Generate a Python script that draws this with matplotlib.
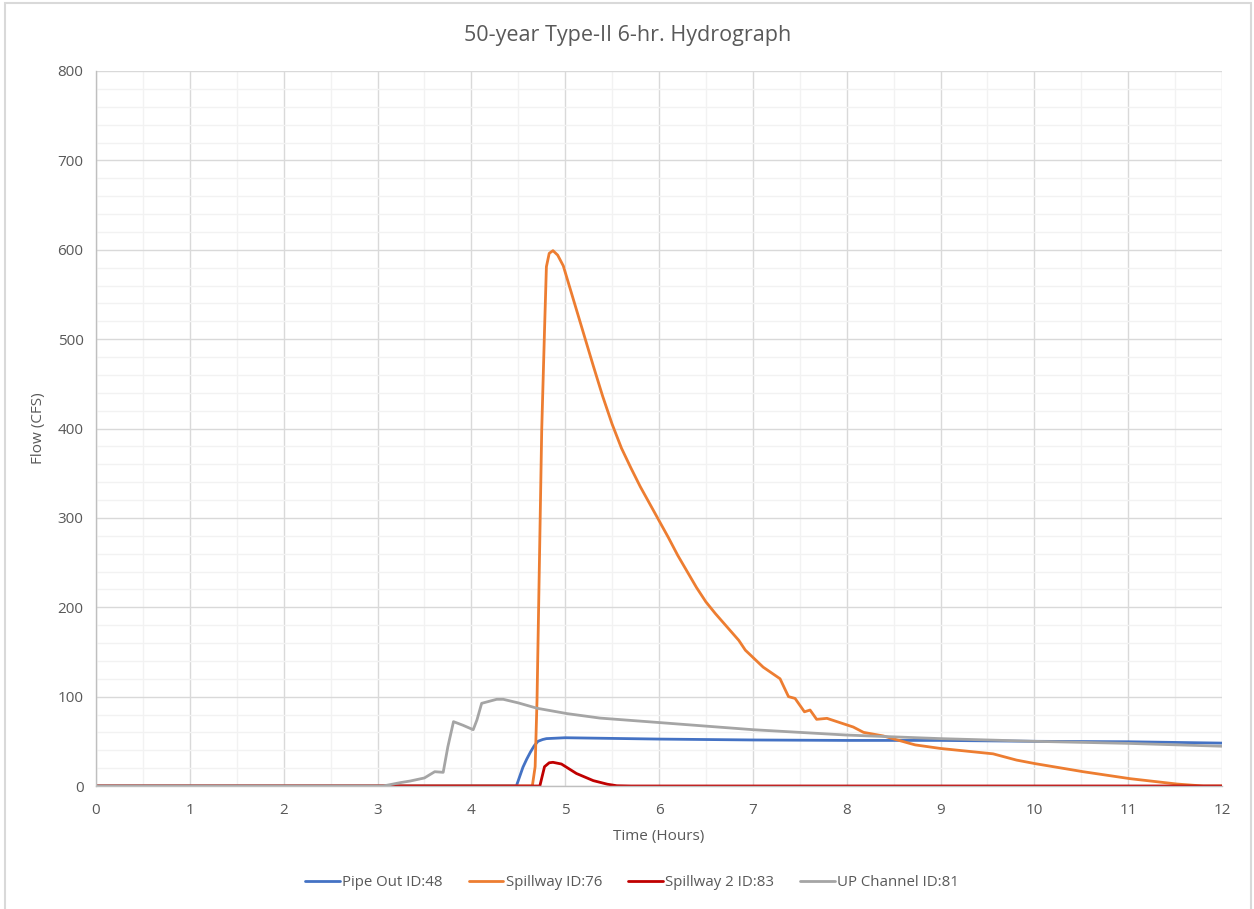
import numpy as np
import matplotlib.pyplot as plt
from matplotlib.patches import Rectangle
from matplotlib.ticker import MultipleLocator

plt.rcParams['font.family'] = ['Open Sans', 'DejaVu Sans']

# hydrograph ordinates, time in hours and flow in cfs
t_pipe = [0, 4.48, 4.52, 4.55, 4.59, 4.63, 4.67, 4.71, 4.76, 4.80, 5.0, 6.0, 7.0, 8.0,
          9.0, 10.0, 11.0, 12.0]
q_pipe = [0, 0, 12, 21, 30, 38, 45, 50, 52, 53, 54, 52.5, 51.5, 51,
          51, 50, 49.5, 48]

t_spill = [0, 4.65, 4.68, 4.70, 4.75, 4.78, 4.80, 4.83, 4.87, 4.92, 4.98, 5.1, 5.2,
           5.3, 5.4, 5.5, 5.6, 5.7, 5.8, 5.9, 6.0, 6.1, 6.2, 6.3, 6.4, 6.5, 6.6,
           6.7, 6.8, 6.85, 6.92, 7.11, 7.29, 7.38, 7.45, 7.55, 7.61, 7.68,
           7.79, 8.07, 8.18, 8.39, 8.67, 8.73, 9.0, 9.56, 9.81, 10.01, 10.52, 11.02,
           11.52, 11.8, 12.0]
q_spill = [0, 0, 21.6, 96, 398, 510, 581, 596, 599, 594, 582, 540, 505,
           470, 436, 405, 378, 356, 335, 316, 297, 278, 258, 240, 222, 206, 193,
           181, 169, 163, 152, 133, 120, 100, 98, 83, 85, 74.6,
           75.7, 66, 60, 56, 47.7, 46, 42, 36, 29, 25, 16, 8.2,
           2.2, 0, 0]

t_spill2 = [0, 4.73, 4.78, 4.83, 4.87, 4.96, 5.12, 5.30, 5.45, 5.55, 5.7, 12.0]
q_spill2 = [0, 0, 21.6, 26, 26.5, 24.6, 14, 6, 2, 0.3, 0, 0]

t_chan = [0, 3.06, 3.24, 3.35, 3.5, 3.61, 3.70, 3.75, 3.81, 3.91, 4.02, 4.06, 4.11,
          4.27, 4.34, 4.5, 4.70, 5.02, 5.37, 6.0, 7.0, 8.0, 9.0, 10.0, 11.0, 12.0]
q_chan = [0, 0, 3.7, 5.6, 9, 16, 15.3, 44, 72, 68, 63, 74, 92.5,
          97, 97, 93, 87, 81, 76, 71, 63, 57, 53, 50, 47.7, 44.5]

series = [
    ('Pipe Out ID:48', t_pipe, q_pipe, '#4472c4'),
    ('Spillway ID:76', t_spill, q_spill, '#ed7d31'),
    ('Spillway 2 ID:83', t_spill2, q_spill2, '#c00000'),
    ('UP Channel ID:81', t_chan, q_chan, '#a5a5a5'),
]

txt = '#595959'
fig = plt.figure(figsize=(12.54, 9.09), dpi=100)
ax = fig.add_axes([96/1254, 1 - 786/909, (1222-96)/1254, (786-71)/909])

for name, t, q, c in series:
    ax.plot(t, q, color=c, lw=2.0, label=name, solid_capstyle='round',
            solid_joinstyle='round')

ax.set_xlim(0, 12)
ax.set_ylim(0, 800)
ax.xaxis.set_major_locator(MultipleLocator(1))
ax.xaxis.set_minor_locator(MultipleLocator(0.5))
ax.yaxis.set_major_locator(MultipleLocator(100))
ax.yaxis.set_minor_locator(MultipleLocator(20))
ax.grid(which='major', color='#d9d9d9', lw=1.0, zorder=0)
ax.grid(which='minor', color='#f2f2f2', lw=1.0, zorder=0)
ax.set_axisbelow(True)
ax.tick_params(which='both', length=0, labelsize=11, colors=txt)
ax.tick_params(axis='x', pad=12)
ax.tick_params(axis='y', pad=9)
for s in ['top', 'right']:
    ax.spines[s].set_visible(False)
for s in ['left', 'bottom']:
    ax.spines[s].set_color('#bfbfbf')
    ax.spines[s].set_linewidth(1.0)

ax.set_xlabel('Time (Hours)', fontsize=11, color=txt, labelpad=8)
ax.set_ylabel('Flow (CFS)', fontsize=11, color=txt, labelpad=8)
fig.text(628/1254, 1 - 35/909, '50-year Type-II 6-hr. Hydrograph',
         ha='center', va='center', fontsize=15.5, color=txt)

fig.legend(loc='center', bbox_to_anchor=(632/1254, 1 - 883/909), ncol=4,
           frameon=False, fontsize=10.8, labelcolor=txt, handlelength=2.3,
           handletextpad=0.15, columnspacing=1.75)

# chart border
fig.patches.append(Rectangle((5/1254, -0.01), 1246/1254, 1 - 3/909 + 0.01,
                             transform=fig.transFigure, fill=False,
                             edgecolor='#d9d9d9', lw=1.5))

fig.savefig('out.png', dpi=100)
